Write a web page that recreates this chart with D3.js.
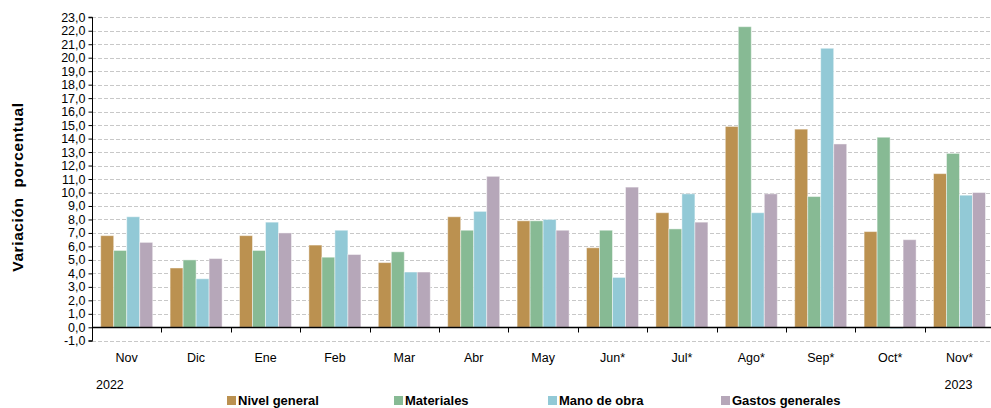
<!DOCTYPE html>
<html><head><meta charset="utf-8">
<script src="https://cdn.jsdelivr.net/npm/d3@7"></script>
<style>
body{margin:0;background:#fff;}
svg{display:block;}
</style></head>
<body><svg id="c" width="991" height="408"></svg>
<script>
const categories = ["Nov","Dic","Ene","Feb","Mar","Abr","May","Jun*","Jul*","Ago*","Sep*","Oct*","Nov*"];
const seriesNames = ["Nivel general","Materiales","Mano de obra","Gastos generales"];
const nivelGeneral   = [6.8,4.4,6.8,6.1,4.8,8.2,7.9,5.9,8.5,14.9,14.7,7.1,11.4];
const materiales     = [5.7,5.0,5.7,5.2,5.6,7.2,7.9,7.2,7.3,22.3,9.7,14.1,12.9];
const manoDeObra     = [8.2,3.6,7.8,7.2,4.1,8.6,8.0,3.7,9.9,8.5,20.7,-0.1,9.8];
const gastosGenerales= [6.3,5.1,7.0,5.4,4.1,11.2,7.2,10.4,7.8,9.9,13.6,6.5,10.0];
const yTicks = d3.range(-1, 24, 1);
const colors = ["#BB9150","#87BA94","#92C9D6","#B6A7B9"];
const yearLabels = ["2022","2023"];

const series = [nivelGeneral, materiales, manoDeObra, gastosGenerales];
const svg = d3.select("#c");
const left = 92, right = 994.2, y0px = 327.3;
const x0 = d3.scaleBand().domain(categories).range([left, right]).paddingInner(0).paddingOuter(0);
const x1 = d3.scaleBand().domain(seriesNames).range([8.7, x0.bandwidth() - 8.7]).padding(0);
const y = d3.scaleLinear().domain([-1, 23]).range([y0px + 13.48, y0px - 23*13.48]);

const numFmt = v => v.toFixed(1).replace(".", ",");
const labelFont = "'Liberation Sans Narrow','Arial Narrow',sans-serif";

// gridlines
svg.append("g").selectAll("line").data(yTicks).join("line")
  .attr("x1", left).attr("x2", 991)
  .attr("y1", d => Math.round(y(d)) + 0.5).attr("y2", d => Math.round(y(d)) + 0.5)
  .attr("stroke", "#C8C8C8").attr("stroke-width", 1).attr("stroke-dasharray", "4,2");

// bars
const g = svg.append("g");
categories.forEach((c, i) => {
  series.forEach((s, j) => {
    const v = s[i];
    g.append("rect")
      .attr("x", x0(c) + x1(seriesNames[j]))
      .attr("width", x1.bandwidth())
      .attr("y", Math.min(y(v), y(0)))
      .attr("height", Math.abs(y(v) - y(0)))
      .attr("fill", colors[j])
      .attr("stroke", "rgba(255,255,255,0.45)").attr("stroke-width", 1);
  });
});

// y axis
const yAxis = d3.axisLeft(y).tickValues(yTicks).tickSize(4).tickFormat(numFmt);
const ya = svg.append("g").attr("transform", `translate(${left + 0.5},0)`).call(yAxis);
ya.select(".domain").attr("stroke", "#000").attr("d", `M-4,${y(23)}H0V${y(-1)}H-4`);
ya.selectAll(".tick line").attr("stroke", "#000");
ya.selectAll(".tick text").attr("font-family", labelFont).attr("font-size", 12.5).attr("fill", "#000").attr("x", -7);

// x axis at zero
const xAxis = d3.axisBottom(x0).tickSize(0).tickFormat("");
const xa = svg.append("g").attr("transform", `translate(0,${Math.round(y(0)) + 0.5})`).call(xAxis);
xa.select(".domain").attr("stroke", "#000").attr("stroke-width", 1.6).attr("d", `M${left},0H991`);
// boundary ticks
xa.selectAll(".bt").data(categories.slice(1)).join("line").attr("class", "bt")
  .attr("x1", d => Math.round(x0(d)) + 0.5).attr("x2", d => Math.round(x0(d)) + 0.5)
  .attr("y1", 0).attr("y2", 5).attr("stroke", "#000");

// category labels
svg.append("g").selectAll("text").data(categories).join("text")
  .attr("x", d => x0(d) + x0.bandwidth() / 2).attr("y", 362)
  .attr("text-anchor", "middle").attr("font-family", labelFont).attr("font-size", 12.5)
  .text(d => d);

// year labels
svg.append("text").attr("x", x0(categories[0]) + 4).attr("y", 389)
  .attr("font-family", labelFont).attr("font-size", 12.5).text(yearLabels[0]);
svg.append("text").attr("x", x0(categories[12]) + x0.bandwidth()/2 - 1).attr("y", 389)
  .attr("text-anchor", "middle").attr("font-family", labelFont).attr("font-size", 12.5).text(yearLabels[1]);

// y title
svg.append("text").attr("transform", "translate(23,187) rotate(-90)")
  .attr("text-anchor", "middle").attr("font-family", "'Liberation Sans',Arial,sans-serif")
  .attr("font-weight", "bold").attr("font-size", 15.5).attr("letter-spacing", 0.6)
  .style("white-space", "pre").text("Variación  porcentual");

// legend
const legendX = [227, 394, 548, 721];
const lg = svg.append("g");
seriesNames.forEach((n, j) => {
  lg.append("rect").attr("x", legendX[j]).attr("y", 396).attr("width", 9).attr("height", 9).attr("fill", colors[j]);
  lg.append("text").attr("x", legendX[j] + 11).attr("y", 405)
    .attr("font-family", labelFont).attr("font-weight", "bold").attr("font-size", 13).text(n);
});
</script></body></html>
